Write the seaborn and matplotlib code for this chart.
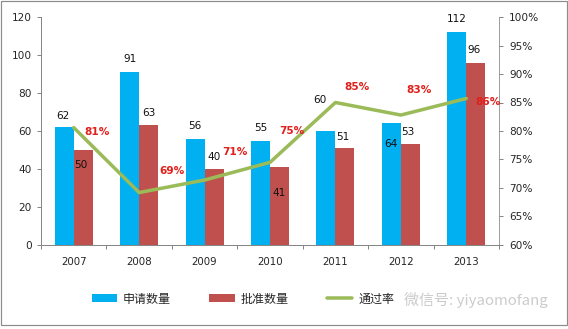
import numpy as np
import pandas as pd
import matplotlib
matplotlib.use("Agg")
import matplotlib.pyplot as plt
import seaborn as sns
from matplotlib.patches import Patch, Rectangle
from matplotlib.lines import Line2D
from matplotlib.ticker import FixedLocator, FuncFormatter

# ---- data ----
years = ["2007", "2008", "2009", "2010", "2011", "2012", "2013"]
applied = [62, 91, 56, 55, 60, 64, 112]          # 申请数量
approved = [50, 63, 40, 41, 51, 53, 96]          # 批准数量
pass_rate = [80.6, 69.2, 71.4, 74.5, 85.0, 82.8, 85.7]   # 通过率 (%)
rate_labels = ["81%", "69%", "71%", "75%", "85%", "83%", "86%"]
series_names = ["申请数量", "批准数量", "通过率"]

# ---- label offsets (style, in px) ----
off_applied = [(-1, 11), (0, 13), (0, 12.5), (0, 12.5), (-6, 31), (0, -20.5), (0, 13)]
off_approved = [(-2, -15), (0, 12), (0, 12), (0, -26), (-2, 11), (-2, 12), (-2, 12.5)]
off_rate = [(23, -4), (33, 22), (30, 28), (22, 31), (22, 16), (18, 25), (22, -3)]

BLUE = "#00B0F0"
RED = "#C0504D"
GREEN = "#9BBB59"
GRAY = "#868686"

sns.set_style("white")
plt.rcParams["font.family"] = ["DejaVu Sans", "Noto Sans CJK SC"]

W, H = 568, 329
fig = plt.figure(figsize=(W / 72, H / 72), dpi=72)
ax = fig.add_axes([41 / W, 84 / H, 458 / W, 228 / H])

df = pd.DataFrame({
    "year": years * 2,
    "series": [series_names[0]] * len(years) + [series_names[1]] * len(years),
    "value": applied + approved,
})
sns.barplot(data=df, x="year", y="value", hue="series", order=years,
            hue_order=series_names[:2], palette=[BLUE, RED], saturation=1,
            width=0.58, linewidth=0, ax=ax, legend=False)

ax.set_xlim(-0.5, len(years) - 0.5)
ax.set_ylim(0, 120)
ax.set_yticks(np.arange(0, 121, 20))
ax.set_xlabel("")
ax.set_ylabel("")

for s in ["top", "right"]:
    ax.spines[s].set_visible(False)
for s in ["left", "bottom"]:
    ax.spines[s].set_color(GRAY)
    ax.spines[s].set_linewidth(1)

ax.tick_params(axis="y", direction="out", length=4, width=1, color=GRAY,
               labelsize=10.5, pad=5, left=True)
ax.tick_params(axis="x", which="major", length=0, labelsize=10.3, pad=12)
ax.xaxis.set_minor_locator(FixedLocator(np.arange(-0.5, len(years), 1.0)))
ax.tick_params(axis="x", which="minor", direction="out", length=4, width=1,
               color=GRAY, bottom=True)

# value labels on bars
for i, cont in enumerate(ax.containers):
    offs = off_applied if i == 0 else off_approved
    vals = applied if i == 0 else approved
    for bar, v, (dx, dy) in zip(cont.patches, vals, offs):
        ax.annotate(str(v), (bar.get_x() + bar.get_width() / 2, bar.get_height()),
                    xytext=(dx, dy), textcoords="offset points",
                    ha="center", va="center", fontsize=10.5, color="#111111")

# ---- line on secondary axis ----
ax2 = ax.twinx()
pos = np.arange(len(years))
sns.lineplot(x=pos, y=np.array(pass_rate) / 100, ax=ax2, color=GREEN,
             linewidth=3.5, sort=False, legend=False)
ax2.set_xlim(-0.5, len(years) - 0.5)
ax2.set_ylim(0.6, 1.0)
ax2.set_yticks(np.arange(0.6, 1.001, 0.05))
ax2.yaxis.set_major_formatter(FuncFormatter(lambda v, p: f"{round(v * 100):d}%"))
ax2.set_ylabel("")
for s in ["top", "left", "bottom"]:
    ax2.spines[s].set_visible(False)
ax2.spines["right"].set_color(GRAY)
ax2.tick_params(axis="y", direction="out", length=4, width=1, color=GRAY,
                labelsize=10.5, pad=6, right=True)

for x, r, lab, (dx, dy) in zip(pos, pass_rate, rate_labels, off_rate):
    ax2.annotate(lab, (x, r / 100), xytext=(dx, dy), textcoords="offset points",
                 ha="center", va="center", fontsize=10.5, fontweight="bold",
                 color="#E0201B")

# ---- legend ----
handles = [Patch(facecolor=BLUE, edgecolor="none"),
           Patch(facecolor=RED, edgecolor="none"),
           Line2D([0], [0], color=GREEN, linewidth=3.5)]
fig.legend(handles, series_names, loc="center", bbox_to_anchor=(243 / W, 1 - 299 / H),
           ncol=3, frameon=False, fontsize=12, handlelength=2.1, handleheight=0.6,
           handletextpad=0.5, columnspacing=3.2,
           prop={"family": ["Noto Sans CJK SC"], "size": 12})

# watermark
fig.text(404 / W, 1 - 300 / H, "微信号: yiyaomofang", fontsize=15, color="#BFBFBF",
         alpha=0.8, ha="left", va="center", family=["Noto Sans CJK SC"])

# figure border
fig.patches.append(Rectangle((1 / W, 4 / H), 566 / W, 324 / H, transform=fig.transFigure,
                             fill=False, edgecolor="#8C8C8C", linewidth=1.2))

fig.savefig("out.png", dpi=72)
